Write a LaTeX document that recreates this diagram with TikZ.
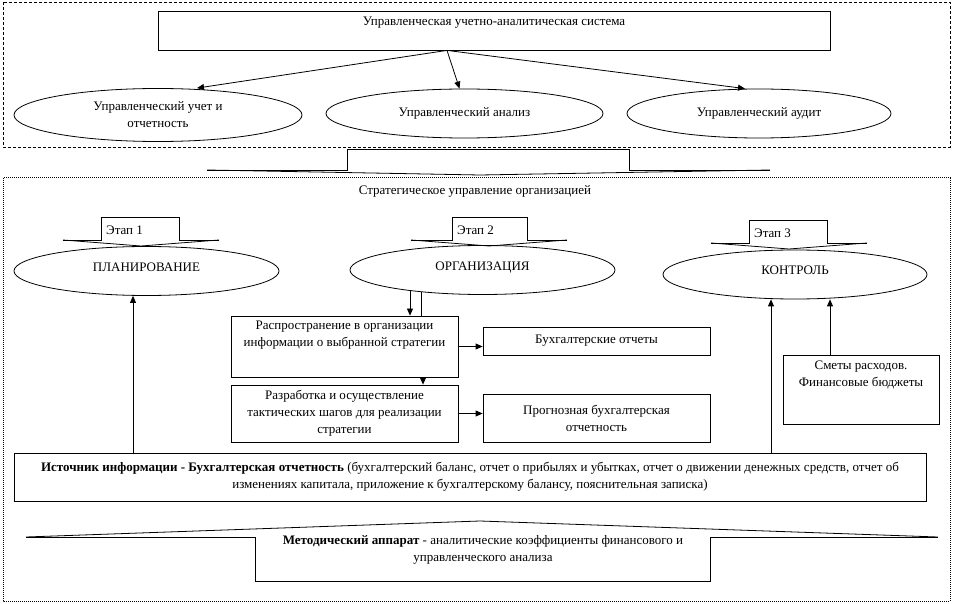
\documentclass[tikz,border=0pt]{standalone}
\usepackage{fontspec}
\setmainfont{Liberation Serif}
\usetikzlibrary{positioning}
\usetikzlibrary{shapes.geometric}
\usetikzlibrary{arrows.meta}
\usetikzlibrary{calc}

\begin{document}
\begin{tikzpicture}
[
x=1pt, y=-1pt,
font=\fontsize{13}{17}\selectfont,
box-a/.style={rectangle,draw,line width=0.8pt,inner sep=0pt,align=center},
oval-a/.style={ellipse,draw,line width=0.8pt,inner sep=0pt,align=center},
text-a/.style={black,align=center,inner sep=0pt},
arrow-a/.style={-{Triangle[length=7pt,width=6pt]},line width=0.8pt},
line-a/.style={line width=0.8pt},
]
\useasboundingbox (0,0) rectangle (954,604);

% upper frame
\draw [line-a, dash pattern=on 3pt off 2pt] (3,2) rectangle (950,147);
\node (sys) [box-a, minimum width=672, minimum height=39] at (494,30.5) {};
\node (l0)  [text-a, below = 6pt of sys.north] {Управленческая учетно-аналитическая система};
\node (u1)  [oval-a, minimum width=288, minimum height=53] at (158,115) {};
\node (l4)  [text-a, below = 13pt of u1.north] {Управленческий учет и\\отчетность};
\node (u2)  [oval-a, minimum width=277, minimum height=49] at (464.5,113.5) {Управленческий анализ};
\node (u3)  [oval-a, minimum width=264, minimum height=49] at (759,113.5) {Управленческий аудит};
\coordinate (c0) at ($(sys.south)+(-47,0)$);
\draw [arrow-a] (c0) -- ($(u1.north)+(39,0)$);
\draw [arrow-a] (c0) -- ($(u2.north)+(-5,0)$);
\draw [arrow-a] (c0) -- ($(u3.north)+(-14,0)$);

% ribbon between the frames
\draw [line-a] (207,170) -- (347,170) -- (347,149) -- (629,149) -- (629,170) -- (770,170);
\draw [line-a] (207,170) -- (480,175) -- (770,170);

% lower frame
\draw [line-a, line width=1pt, dash pattern=on 1pt off 1pt] (3,178) rectangle (950,601);
\node (l1) [text-a] at (475,191) {Стратегическое управление организацией};

% stage tabs
\foreach \n/\xa/\xb/\xc/\xd/\ya/\yb in {1/63/101/179/219/217/240, 2/411/452/527/567/217/240, 3/711/749/827/867/220/243}
{
  \draw [line-a] (\xa,\yb) -- (\xb,\yb) -- (\xb,\ya) -- (\xc,\ya) -- (\xc,\yb) -- (\xd,\yb);
  \draw [line-a] (\xa,\yb) -- ({(\xa+\xd)/2},\yb+6) -- (\xd,\yb);
  \node (e\n) [text-a, anchor=west] at (\xb+5,\ya+13) {Этап \n};
}

\node (p1) [oval-a, minimum width=265, minimum height=49, text depth=8pt] at (146.5,271) {ПЛАНИРОВАНИЕ};
\node (p2) [oval-a, minimum width=265, minimum height=49, text depth=8pt] at (482.5,270) {ОРГАНИЗАЦИЯ};
\node (p3) [oval-a, minimum width=264, minimum height=49, text depth=8pt] at (795,274.5) {КОНТРОЛЬ};

\node (b1) [box-a, minimum width=227, minimum height=61] at (344.5,346.5) {};
\node (l2) [text-a, below = 5pt of b1.north] {Распространение в организации\\информации о выбранной стратегии};
\node (b2) [box-a, minimum width=227, minimum height=57] at (344.5,413.5) {Разработка и осуществление\\тактических шагов для реализации\\стратегии};
\node (r1) [box-a, minimum width=227, minimum height=28] at (596.5,341) {Бухгалтерские отчеты};
\node (r2) [box-a, minimum width=227, minimum height=48] at (596.5,418) {Прогнозная бухгалтерская\\отчетность};
\node (sm) [box-a, minimum width=156, minimum height=69] at (861,389.5) {};
\node (l3) [text-a, below = 6pt of sm.north] {Сметы расходов.\\Финансовые бюджеты};
\node (src) [box-a, minimum width=912, minimum height=48] at (470,477) {\textbf{Источник информации - Бухгалтерская отчетность} (бухгалтерский баланс, отчет о прибылях и убытках, отчет о движении денежных средств, отчет об\\изменениях капитала, приложение к бухгалтерскому балансу, пояснительная записка)};

\draw [arrow-a] ($(p2.south)+(-72.5,-4)$) -- ($(b1.north)+(65.5,0)$);
\draw [line-a]  ($(p2.south)+(-61.5,-3)$) -- ($(b1.north)+(76.5,0)$);
\draw [arrow-a] ($(b1.south)+(78.5,0)$) -- ($(b2.north)+(78.5,0)$);
\draw [arrow-a] (b1.east) -- (b1.east -| r1.west);
\draw [arrow-a] (b2.east) -- (b2.east -| r2.west);
\draw [arrow-a] ($(src.north)+(-337,0)$) -- ($(p1.south)+(-13.5,0)$);
\draw [arrow-a] ($(src.north)+(301,0)$) -- ($(p3.south)+(-24,0)$);
\draw [arrow-a] ($(sm.north)+(-31,0)$) -- ($(p3.south)+(35,0)$);

% method ribbon
\draw [line-a] (26,537) -- (255,537) -- (255,581) -- (710,581) -- (710,537) -- (938,537);
\draw [line-a] (26,537) -- (480,521) -- (938,537);
\node (mt) [text-a] at (483,550) {\textbf{Методический аппарат} - аналитические коэффициенты финансового и\\управленческого анализа};
\end{tikzpicture}
\end{document}
